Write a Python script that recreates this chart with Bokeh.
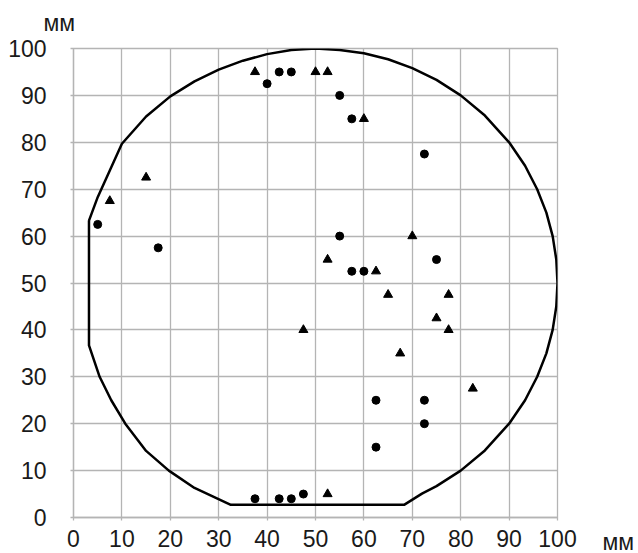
from bokeh.plotting import figure
from bokeh.models import Label, FixedTicker, Range1d
from bokeh.embed import file_html
from bokeh.resources import INLINE

# Wafer outline, clockwise from top of left flat
outline_x = [3.2, 5, 7.5, 10, 15, 20, 25, 30, 35, 40, 45, 50, 55, 60, 65, 70, 75, 80, 85, 90,
             93.3, 95.8, 97.7, 99, 99.75, 100, 99.75, 99, 97.7, 95.8, 93.3, 90, 85, 80, 75, 72, 68.3,
             32.5, 25, 19.7, 15, 10.7, 7.8, 5.4, 3.2, 3.2]
outline_y = [63.3, 68.3, 74, 79.7, 85.5, 89.8, 93, 95.5, 97.4, 98.8, 99.7, 100, 99.7, 99, 97.7, 95.8,
             93.3, 90, 85.7, 80, 75, 70, 65, 60, 55, 50, 45, 40, 35, 30, 25, 20, 14.3, 10, 6.7, 5.1, 2.7,
             2.7, 6.3, 10, 14.2, 20, 25, 30, 36.7, 63.3]

circle_x = [40, 42.5, 45, 55, 57.5, 72.5, 5, 17.5, 55, 75, 57.5, 60, 62.5, 72.5, 72.5, 62.5,
            37.5, 42.5, 45, 47.5]
circle_y = [92.5, 95, 95, 90, 85, 77.5, 62.5, 57.5, 60, 55, 52.5, 52.5, 25, 25, 20, 15,
            4, 4, 4, 5]

tri_x = [37.5, 50, 52.5, 60, 15, 7.5, 70, 52.5, 62.5, 65, 77.5, 75, 77.5, 67.5, 47.5, 82.5, 52.5]
tri_y = [95, 95, 95, 85, 72.5, 67.5, 60, 55, 52.5, 47.5, 47.5, 42.5, 40, 35, 40, 27.5, 5]

ticks = [0, 10, 20, 30, 40, 50, 60, 70, 80, 90, 100]
unit = "мм"

FONT = "Liberation Sans"
GRID = "#b4b4b4"
TXT = "#1a1a1a"
FS = "23px"

p = figure(width=638, height=553, output_backend="svg", toolbar_location=None,
           x_range=Range1d(0, 100), y_range=Range1d(0, 100),
           min_border_left=73, min_border_right=81, min_border_top=48, min_border_bottom=36)
p.background_fill_color = "white"
p.border_fill_color = "white"
p.outline_line_color = GRID
p.outline_line_width = 1.3

for ax in (p.xaxis[0], p.yaxis[0]):
    ax.ticker = FixedTicker(ticks=ticks)
    ax.axis_line_color = GRID
    ax.axis_line_width = 1.3
    ax.major_tick_line_color = GRID
    ax.major_tick_line_width = 1.3
    ax.major_tick_in = 0
    ax.major_tick_out = 3
    ax.minor_tick_line_color = None
    ax.major_label_text_font = FONT
    ax.major_label_text_font_size = FS
    ax.major_label_text_color = TXT
p.xaxis.major_label_standoff = 9
p.yaxis.major_label_standoff = 24

p.xgrid.ticker = FixedTicker(ticks=ticks)
p.ygrid.ticker = FixedTicker(ticks=ticks)
p.grid.grid_line_color = GRID
p.grid.grid_line_width = 1.3

p.line(outline_x, outline_y, line_color="black", line_width=2.5, line_join="round")
p.scatter(circle_x, circle_y, marker="circle", size=8, fill_color="black", line_color="black")
p.scatter(tri_x, tri_y, marker="triangle", size=9, fill_color="black", line_color="black")

p.add_layout(Label(x=-6.2, y=105.5, text=unit, text_font=FONT, text_font_size=FS,
                   text_color=TXT, text_baseline="alphabetic", text_align="left"), "above")
p.add_layout(Label(x=109.3, y=-5.2, text=unit, text_font=FONT, text_font_size=FS,
                   text_color=TXT, text_baseline="alphabetic", text_align="left"), "right")

open("out.html", "w").write(file_html(p, INLINE))
